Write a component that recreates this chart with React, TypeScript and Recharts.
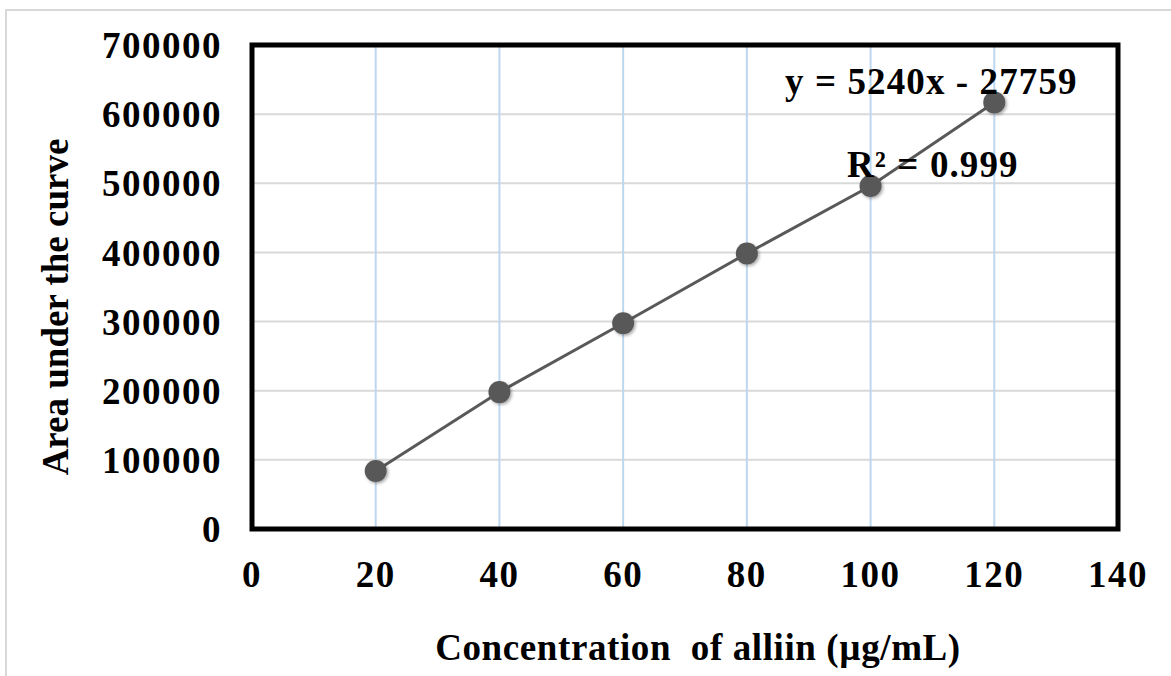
import {
  ComposedChart,
  Line,
  XAxis,
  YAxis,
  CartesianGrid,
  ReferenceArea,
  Label,
} from 'recharts';

// calibration points (µg/mL vs peak area)
const concentration = [20, 40, 60, 80, 100, 120];
const area = [84000, 198000, 297500, 398500, 496000, 617000];

const xTicks = [0, 20, 40, 60, 80, 100, 120, 140];
const yTicks = [0, 100000, 200000, 300000, 400000, 500000, 600000, 700000];

const equationText = 'y = 5240x - 27759';
const r2Text = 'R² = 0.999';

const FONT = '"Liberation Serif", "Times New Roman", serif';

const data = concentration.map((c, i) => ({ conc: c, area: area[i] }));

const Dot = (props: any) => {
  const { cx, cy } = props;
  if (cx == null || cy == null) return null;
  return <circle cx={cx} cy={cy} r={11} fill="#595959" filter="url(#dotShadow)" />;
};

const tickStyle = {
  fill: '#000',
  fontFamily: FONT,
  fontWeight: 700,
  fontSize: 37,
  letterSpacing: '1.5px',
};

const noteStyle: React.CSSProperties = {
  position: 'absolute',
  fontFamily: FONT,
  fontWeight: 700,
  fontSize: 37,
  lineHeight: '44px',
  letterSpacing: '1.1px',
  color: '#000',
  whiteSpace: 'pre',
};

export default function App() {
  return (
    <div style={{ position: 'absolute', left: 0, top: 0, width: 1171, height: 676, background: '#fff' }}>
      {/* outer chart-area border */}
      <div
        style={{
          position: 'absolute',
          left: 5,
          top: 9,
          width: 1166,
          height: 667,
          borderTop: '2px solid #d9d9d9',
          borderLeft: '2px solid #d9d9d9',
        }}
      />
      <div style={{ position: 'absolute', left: 0, top: 0 }}>
        <ComposedChart
          width={1171}
          height={676}
          data={data}
          margin={{ top: 45, right: 53, bottom: 0, left: 0 }}
        >
          <defs>
            <filter id="dotShadow" x="-50%" y="-50%" width="200%" height="200%">
              <feDropShadow dx="1.5" dy="1.5" stdDeviation="1.8" floodColor="#000" floodOpacity="0.35" />
            </filter>
          </defs>
          <CartesianGrid vertical={false} stroke="#d9d9d9" strokeWidth={2} />
          <CartesianGrid horizontal={false} stroke="#bdd7ee" strokeWidth={2} />
          <XAxis
            type="number"
            dataKey="conc"
            domain={[0, 140]}
            ticks={xTicks}
            height={147}
            axisLine={false}
            tickLine={false}
            tickSize={0}
            tickMargin={32}
            tick={tickStyle}
          >
            <Label
              content={(p: any) => {
                const vb = p.viewBox;
                return (
                  <text
                    x={vb.x + vb.width / 2 + 13}
                    y={660}
                    textAnchor="middle"
                    fontFamily={FONT}
                    fontWeight={700}
                    fontSize={37}
                    fill="#000"
                    style={{ whiteSpace: 'pre', letterSpacing: '0.6px' }}
                  >
                    {'Concentration  of alliin (µg/mL)'}
                  </text>
                );
              }}
            />
          </XAxis>
          <YAxis
            type="number"
            domain={[0, 700000]}
            ticks={yTicks}
            width={252}
            axisLine={false}
            tickLine={false}
            tickSize={0}
            tickMargin={30}
            tick={tickStyle}
          >
            <Label
              content={() => (
                <text
                  x={55}
                  y={307}
                  transform="rotate(-90, 55, 307)"
                  textAnchor="middle"
                  dominantBaseline="central"
                  fontFamily={FONT}
                  fontWeight={700}
                  fontSize={37}
                  fill="#000"
                >
                  Area under the curve
                </text>
              )}
            />
          </YAxis>
          <ReferenceArea
            x1={0}
            x2={140}
            y1={0}
            y2={700000}
            fill="none"
            stroke="#000"
            strokeWidth={5}
            ifOverflow="visible"
          />
          <Line
            type="linear"
            dataKey="area"
            stroke="#595959"
            strokeWidth={3}
            dot={<Dot />}
            activeDot={false}
            isAnimationActive={false}
          />
        </ComposedChart>
      </div>
      {/* trendline annotation */}
      <div style={{ ...noteStyle, left: 785, top: 60 }}>{equationText}</div>
      <div style={{ ...noteStyle, left: 847, top: 143 }}>{r2Text}</div>
    </div>
  );
}
